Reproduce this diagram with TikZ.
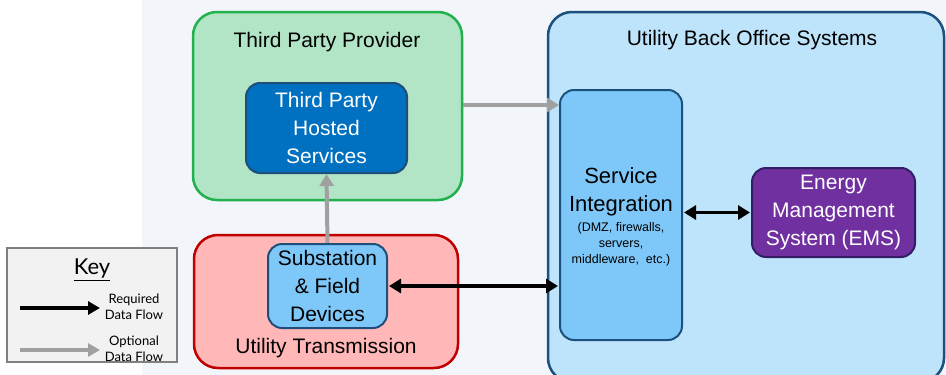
\documentclass[tikz,border=0pt]{standalone}
\usepackage{fontspec}
\setmainfont{Liberation Sans}
\newfontfamily\keyfont{Lato}
\usetikzlibrary{arrows.meta}
\definecolor{tpgreen}{RGB}{34,177,76}
\definecolor{tpfill}{RGB}{178,228,198}
\definecolor{hostfill}{RGB}{0,112,192}
\definecolor{hostline}{RGB}{31,78,121}
\definecolor{utred}{RGB}{192,0,0}
\definecolor{utfill}{RGB}{255,183,183}
\definecolor{boline}{RGB}{28,80,125}
\definecolor{bofill}{RGB}{190,228,251}
\definecolor{devfill}{RGB}{125,200,248}
\definecolor{emsfill}{RGB}{112,48,160}
\definecolor{emsline}{RGB}{50,30,100}
\definecolor{optgray}{RGB}{160,160,160}
\definecolor{keyfill}{RGB}{242,242,242}
\definecolor{keyline}{RGB}{128,128,128}
\definecolor{bgblue}{RGB}{242,246,250}
\tikzset{
  region/.style={draw, line width=2.5pt, rounded corners=24pt, inner sep=0pt},
  unit/.style={draw, line width=2pt, rounded corners=14pt, inner sep=0pt, align=center,
    font=\fontsize{21}{28}\selectfont},
  titletext/.style={font=\fontsize{21}{24}\selectfont, inner sep=0pt},
  reqflow/.style={line width=3.5pt, black, {Triangle[length=12pt,width=14pt]}-{Triangle[length=12pt,width=14pt]}, shorten <=1pt, shorten >=1pt},
  optflow/.style={line width=4pt, optgray, -{Triangle[length=12pt,width=14pt]}},
  keytext/.style={font=\keyfont\fontsize{13}{16}\selectfont, align=center, inner sep=0pt}
}
\begin{document}
\begin{tikzpicture}[x=1pt,y=-1pt]
\useasboundingbox (0,0) rectangle (946,375);
\clip (0,0) rectangle (946,375);
% soft background
\fill[white] (0,0) rectangle (946,375);
\fill[bgblue] (142,0) rectangle (946,375);

% outer regions
\node[region, draw=tpgreen, fill=tpfill, minimum width=269pt, minimum height=188pt] (tpp) at (327.5,106) {};
\node[titletext] (tpptitle) at (327,42) {Third Party Provider};

\node[region, draw=utred, fill=utfill, minimum width=264pt, minimum height=133pt] (ut) at (326,301.5) {};
\node[titletext] (uttitle) at (326,348) {Utility Transmission};

\node[region, draw=boline, fill=bofill, minimum width=396pt, minimum height=370pt] (bo) at (746,197) {};
\node[titletext] (botitle) at (752,40) {Utility Back Office Systems};

% inner units
\node[unit, draw=hostline, fill=hostfill, text=white, minimum width=161pt, minimum height=90pt] (host) at (326.5,128) {Third Party\\Hosted\\Services};

\node[unit, draw=hostline, fill=devfill, minimum width=119pt, minimum height=84pt] (dev) at (327.5,286) {Substation\\\& Field\\Devices};

\node[unit, draw=boline, fill=devfill, minimum width=122pt, minimum height=250pt] (si) at (621,215) {};
\node[align=center, font=\fontsize{22}{28}\selectfont, inner sep=0pt] (sititle) at (621,192) {Service\\Integration};
\node[align=center, font=\fontsize{12.5}{16}\selectfont, inner sep=0pt] (sinote) at (621,244) {(DMZ, firewalls,\\servers,\\middleware,\ \ etc.)};

\node[unit, draw=emsline, fill=emsfill, text=white, minimum width=163pt, minimum height=89pt] (ems) at (833.5,212.5) {Energy\\Management\\System (EMS)};

% data flows
\draw[optflow] (tpp.east |- 0,105) -- (si.west |- 0,105);
\draw[optflow] (dev.north) -- (host.south);
\draw[reqflow] (dev.east) -- (si.west |- dev.east);
\draw[reqflow] (si.east |- ems.west) -- (ems.west);

% key
\node[draw=keyline, fill=keyfill, line width=2.5pt, minimum width=170pt, minimum height=114pt, inner sep=0pt] (key) at (92,305) {};
\node[font=\keyfont\fontsize{22}{24}\selectfont, inner sep=0pt] (keytitle) at (92,270) {\underline{Key}};
\coordinate (ka1) at (20,308);
\coordinate (kb1) at (100,308);
\coordinate (ka2) at (20,350);
\coordinate (kb2) at (100,350);
\draw[line width=3.5pt, black, -{Triangle[length=12pt,width=13pt]}] (ka1) -- (kb1);
\draw[line width=3.5pt, optgray, -{Triangle[length=12pt,width=13pt]}] (ka2) -- (kb2);
\node[keytext] (kreq) at (134,307) {Required\\Data Flow};
\node[keytext] (kopt) at (134,349) {Optional\\Data Flow};
\end{tikzpicture}
\end{document}
